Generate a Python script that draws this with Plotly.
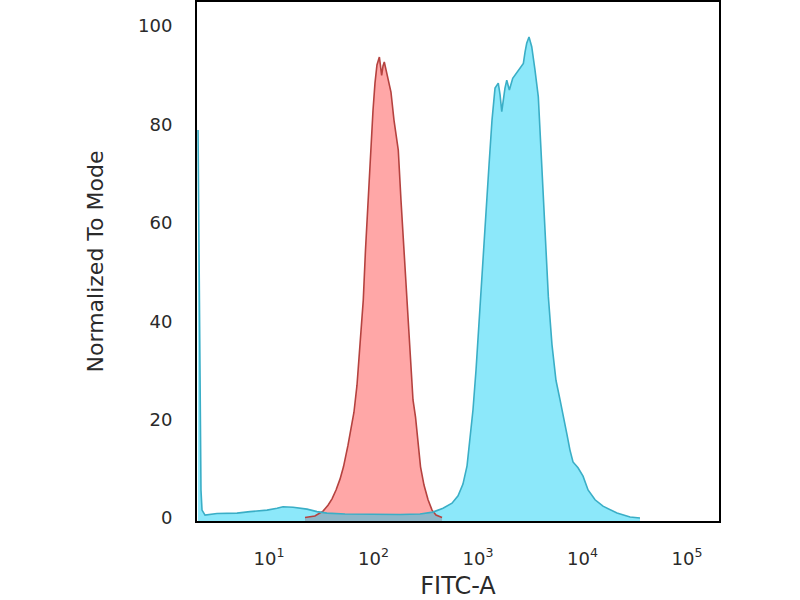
import plotly.graph_objects as go

# isotype control (red) - FITC-A intensity and % of mode
control_fitc = [22.1, 27.5, 32.9, 36.7, 40.1, 43.8, 47.8, 51.6, 57.0, 65.0,
                69.5, 73.5, 79.8, 83.8, 89.1, 93.5, 98.9, 103.3, 107.9, 113.8,
                116.7, 119.7, 123.3, 126.8, 131.8, 137.7, 146.9, 157.0, 172.6, 183.2,
                195.9, 209.4, 225.9, 238.8, 252.4, 266.7, 281.8, 304.1, 332.7, 363.1,
                396.3, 452.9]
control_mode = [0.1, 0.4, 1.4, 2.6, 3.9, 5.7, 7.9, 10.4, 14.8, 21.5,
                27.0, 34.1, 44.3, 54.5, 64.6, 74.8, 82.9, 88.4, 92.1, 93.7,
                91.9, 90.0, 91.9, 92.7, 91.1, 89.0, 86.6, 80.9, 74.8, 64.6,
                54.5, 44.3, 34.1, 24.0, 20.5, 14.8, 10.4, 6.7, 3.7, 1.6,
                0.6, 0.1]

# stained sample (cyan)
sample_fitc = [2.094, 2.138, 2.188, 2.234, 2.286, 2.443, 3.177, 4.943, 6.577, 9.572,
               11.94, 13.61, 16.98, 23.12, 28.77, 35.89, 53.33, 92.68, 179.5, 278.6,
               370.7, 462.4, 563.6, 644.2, 717.8, 785.2, 837.5, 895.4, 957.1, 1023,
               1091, 1167, 1274, 1361, 1455, 1563, 1626, 1687, 1746, 1811,
               1884, 1995, 2148, 2259, 2432, 2576, 2716, 2818, 2924, 3076,
               3266, 3508, 3776, 3917, 4074, 4375, 4710, 5105, 5572, 6095,
               6501, 7112, 7586, 8110, 9057, 10116, 11298, 13183, 15704, 21380,
               28510, 35480]
sample_mode = [78.9, 54.5, 24.0, 5.7, 1.6, 0.6, 0.9, 1.0, 1.3, 1.6,
               2.0, 2.3, 2.2, 1.8, 1.3, 1.0, 0.8, 0.7, 0.7, 0.8,
               1.2, 2.0, 3.0, 4.5, 6.9, 10.6, 15.9, 22.0, 30.1, 40.2,
               50.4, 59.6, 71.7, 80.9, 87.4, 88.4, 86.0, 82.6, 85.6, 87.4,
               89.0, 87.0, 89.4, 90.0, 91.1, 91.7, 92.4, 94.7, 96.5, 97.8,
               95.8, 91.1, 85.6, 78.9, 72.2, 58.5, 45.0, 35.2, 28.0, 24.0,
               21.3, 16.9, 13.8, 11.4, 10.2, 8.5, 5.7, 3.7, 2.4, 1.0,
               0.2, 0.0]

x_ticks = [10, 100, 1000, 10000, 100000]
x_ticktext = ["10<sup>1</sup>", "10<sup>2</sup>", "10<sup>3</sup>", "10<sup>4</sup>", "10<sup>5</sup>"]
y_ticks = [0, 20, 40, 60, 80, 100]

y_min, y_max = -0.61, 104.9

fig = go.Figure()

def add_hist(xs, ys, fillcolor, linecolor):
    # closed shape down to the bottom of the frame, then the outline on top
    fig.add_trace(go.Scatter(x=xs + [xs[-1], xs[0]], y=ys + [y_min, y_min],
                             fill="toself", fillcolor=fillcolor, mode="lines",
                             line=dict(width=0), hoverinfo="skip", showlegend=False))
    return go.Scatter(x=xs, y=ys, mode="lines", line=dict(color=linecolor, width=1.6),
                      showlegend=False)

red_line = add_hist(control_fitc, control_mode, "rgba(255,80,80,0.5)", "#b5423f")
cyan_line = add_hist(sample_fitc, sample_mode, "rgba(0,205,245,0.45)", "#3aaec6")
fig.add_trace(red_line)
fig.add_trace(cyan_line)

font_col = "#2a2a2a"
fig.update_layout(
    width=800, height=600,
    margin=dict(l=197, r=81, t=2, b=79),
    paper_bgcolor="white", plot_bgcolor="white",
    font=dict(family="DejaVu Sans", color=font_col),
)
fig.update_xaxes(
    type="log", range=[0.311, 5.306],
    tickvals=x_ticks, ticktext=x_ticktext,
    tickfont=dict(size=18, color=font_col), ticks="", ticklabelstandoff=20,
    showgrid=False, zeroline=False,
    showline=True, mirror=True, linecolor="black", linewidth=2,
    title=dict(text="FITC-A", font=dict(size=24, color=font_col), standoff=11),
    automargin=False,
)
fig.update_yaxes(
    range=[y_min, y_max],
    tickvals=y_ticks,
    tickfont=dict(size=18, color=font_col), ticks="", ticklabelstandoff=19,
    showgrid=False, zeroline=False,
    showline=True, mirror=True, linecolor="black", linewidth=2,
    title=dict(text="Normalized To Mode", font=dict(size=22, color=font_col), standoff=28),
    automargin=False,
)

# the page's default body margin would push the figure 8px down and right
fig.write_html("out.html", config={"displayModeBar": False},
               post_script="document.body.style.margin='0px';")
